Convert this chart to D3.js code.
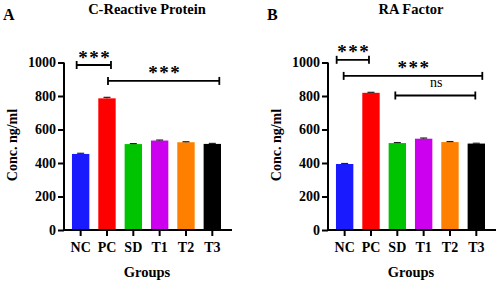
<!DOCTYPE html>
<html><head><meta charset="utf-8">
<script src="https://cdn.jsdelivr.net/npm/d3@7"></script>
<style>
html,body{margin:0;padding:0;background:#fff;}
text{font-family:"Liberation Serif","Times New Roman",serif;font-weight:bold;fill:#000;}
</style></head>
<body>
<svg id="chart" width="498" height="283"></svg>
<script>
const groups = ["NC","PC","SD","T1","T2","T3"];
const colors = ["#1a1aff","#ff0000","#00c400","#cc00ee","#ff8000","#000000"];
const crpValues = [454, 786, 513, 534, 524, 514];
const crpErrors = [4, 6, 3, 3, 3, 3];
const raValues = [394, 819, 519, 545, 525, 516];
const raErrors = [3, 3, 3, 4, 3, 2];
const yTicks = [0, 200, 400, 600, 800, 1000];
const panelLetters = ["A","B"];
const panelTitles = ["C-Reactive Protein","RA Factor"];
const yLabel = "Conc. ng/ml";
const xLabel = "Groups";
// significance brackets: [from group, to group, level (ng/ml), label]
const crpSig = [["NC","PC",985,"***"],["PC","T3",890,"***"]];
const raSig = [["NC","PC",1016,"***"],["NC","T3",920,"***"],["SD","T3",803,"ns"]];
// pixel nudges of the bracket ends (layout only)
const crpNudge = [[-4,4],[1,7]];
const raNudge = [[-8,-2],[-1,6],[-2,-1]];

const svg = d3.select("#chart");

function panel(ox, letter, title, values, errors, sigs, nudges){
  const g = svg.append("g");
  const x0 = ox, x1 = ox + 168;
  const x = d3.scaleBand().domain(groups).range([x0, x1]).paddingInner(0.34).paddingOuter(0.36).align(0.42);
  const y = d3.scaleLinear().domain([0,1000]).range([230, 62.5]);
  const cx = d => x(d) + x.bandwidth()/2;

  // bars
  g.selectAll("rect.bar").data(groups).enter().append("rect")
    .attr("x", d => x(d)).attr("width", x.bandwidth())
    .attr("y", (d,i) => y(values[i])).attr("height", (d,i) => y(0) - y(values[i]))
    .attr("fill", (d,i) => colors[i]);
  // error bars
  groups.forEach((d,i) => {
    const c = cx(d);
    g.append("line").attr("x1", c).attr("x2", c)
      .attr("y1", y(values[i])).attr("y2", y(values[i]+errors[i]))
      .attr("stroke","#000").attr("stroke-width",1);
    g.append("line").attr("x1", c-3.5).attr("x2", c+3.5)
      .attr("y1", y(values[i]+errors[i])).attr("y2", y(values[i]+errors[i]))
      .attr("stroke","#222").attr("stroke-width",1.2);
  });

  // axes
  const ya = g.append("g").attr("transform", `translate(${x0},0)`)
    .call(d3.axisLeft(y).tickValues(yTicks).tickSize(6).tickPadding(2).tickFormat(d3.format("d")));
  const xa = g.append("g").attr("transform", `translate(0,230)`)
    .call(d3.axisBottom(x).tickSize(6).tickPadding(5));
  [ya, xa].forEach(a => {
    a.select(".domain").attr("stroke","#000").attr("stroke-width",2);
    a.selectAll(".tick line").attr("stroke","#000").attr("stroke-width",2);
    a.selectAll(".tick text").style("font-family",'"Liberation Serif",serif').style("font-weight","bold").style("font-size","14px").attr("fill","#000");
  });
  xa.selectAll(".tick text").attr("dy", null).attr("y", 22);
  xa.select(".domain").attr("d", `M${x0},0H${x1}`);
  ya.select(".domain").attr("d", `M-0,${y(1000)}V${y(0)}`);

  // labels
  g.append("text").attr("x", ox-61).attr("y", 20).attr("font-size", 16).text(letter);
  g.append("text").attr("x", ox+83).attr("y", 13.5).attr("font-size", 14.5).attr("text-anchor","middle").text(title);
  g.append("text").attr("x", (x0+x1)/2 - 1).attr("y", 277).attr("font-size", 14.5).attr("text-anchor","middle").text(xLabel);
  g.append("text").attr("transform", `translate(${ox-47},145) rotate(-90)`).attr("font-size", 14).attr("text-anchor","middle").text(yLabel);

  // significance brackets
  sigs.forEach((s, k) => {
    const xa1 = cx(s[0]) + nudges[k][0], xa2 = cx(s[1]) + nudges[k][1];
    const yy = y(s[2]);
    g.append("line").attr("x1", xa1).attr("x2", xa2).attr("y1", yy).attr("y2", yy).attr("stroke","#000").attr("stroke-width",1.8);
    [xa1, xa2].forEach(xx => g.append("line").attr("x1", xx).attr("x2", xx).attr("y1", yy-4).attr("y2", yy+4).attr("stroke","#000").attr("stroke-width",1.8));
    const isNs = s[3] === "ns";
    g.append("text").attr("x", (xa1+xa2)/2 + (isNs ? 1 : 1)).attr("y", isNs ? yy-8 : yy-1.5)
      .attr("font-size", isNs ? 14 : 19).attr("text-anchor","middle")
      .style("font-weight", isNs ? "normal" : "bold").style("letter-spacing", isNs ? "0" : "1.5px")
      .text(s[3]);
  });
}

panel(64, panelLetters[0], panelTitles[0], crpValues, crpErrors, crpSig, crpNudge);
panel(328, panelLetters[1], panelTitles[1], raValues, raErrors, raSig, raNudge);
</script>
</body></html>
